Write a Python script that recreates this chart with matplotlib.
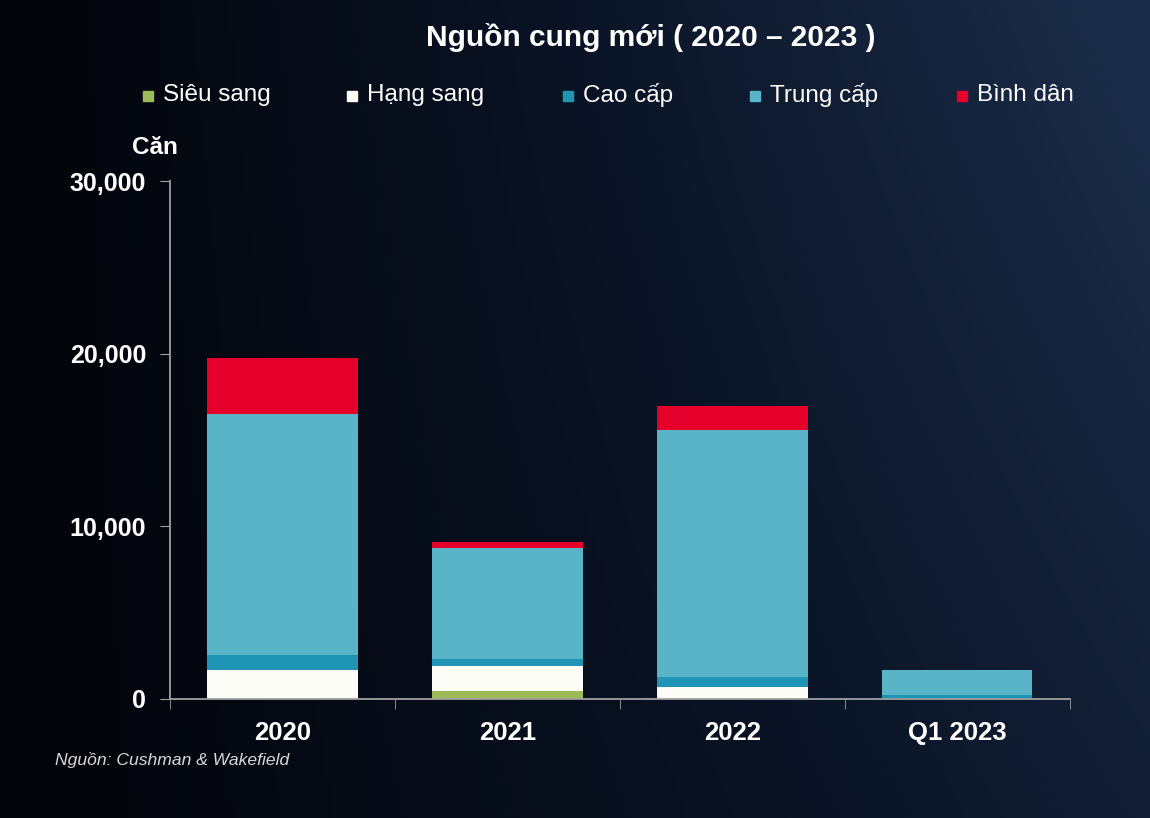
import matplotlib.pyplot as plt
import numpy as np
from matplotlib.colors import LinearSegmentedColormap
from matplotlib.patches import Rectangle

plt.rcParams['font.family'] = ['Liberation Sans', 'DejaVu Sans']

categories = ['2020', '2021', '2022', 'Q1 2023']
segments = ['Siêu sang', 'Hạng sang', 'Cao cấp', 'Trung cấp', 'Bình dân']
sieu_sang = [0, 450, 0, 0]
hang_sang = [1680, 1460, 720, 0]
cao_cap = [870, 390, 555, 215]
trung_cap = [13980, 6430, 14295, 1485]
binh_dan = [3220, 350, 1420, 0]
colors = ['#9bbb59', '#fdfdf8', '#1f94b4', '#5ab4c8', '#e4002b']

fig = plt.figure(figsize=(11.5, 8.18), dpi=100)

# background gradient
bg = fig.add_axes([0, 0, 1, 1])
bg.set_axis_off()
xx, yy = np.meshgrid(np.linspace(0, 1, 300), np.linspace(0, 1, 200))
grad = np.clip(0.75 * xx + 0.35 * (1 - yy) * xx - 0.05, 0, 1)
cmap = LinearSegmentedColormap.from_list('bg', ['#03050c', '#0a1426', '#1b2c48'])
bg.imshow(grad, cmap=cmap, aspect='auto', extent=[0, 1, 0, 1], origin='upper')

ax = fig.add_axes([0.1478, 0.1455, 0.7826, 0.6332])
ax.patch.set_alpha(0)

x = np.arange(len(categories))
series = [sieu_sang, hang_sang, cao_cap, trung_cap, binh_dan]
bottom = np.zeros(len(categories))
for name, vals, c in zip(segments, series, colors):
    ax.bar(x, vals, width=0.667, bottom=bottom, color=c, label=name)
    bottom += np.array(vals)

ax.set_xlim(-0.5, 3.5)
ax.set_ylim(0, 30000)
ax.set_yticks([0, 10000, 20000, 30000])
ax.set_yticklabels(['{:,}'.format(v) for v in [0, 10000, 20000, 30000]])
ax.set_xticks(x)
ax.set_xticklabels(categories)
ax.set_xticks(np.arange(-0.5, 4, 1), minor=True)
ax.tick_params(axis='x', which='major', length=0, pad=16, labelsize=18.5, colors='white')
ax.tick_params(axis='x', which='minor', length=7, color='#a0a0a0', direction='out')
ax.tick_params(axis='y', length=7, color='#a0a0a0', labelsize=18, colors='white', pad=10)
ax.tick_params(axis='y', color='#a0a0a0')
for lbl in ax.get_xticklabels() + ax.get_yticklabels():
    lbl.set_fontweight('bold')
for s in ['top', 'right']:
    ax.spines[s].set_visible(False)
for s in ['left', 'bottom']:
    ax.spines[s].set_color('#a0a0a0')
    ax.spines[s].set_linewidth(1.3)

fig.text(0.566, 1 - 37 / 818, 'Nguồn cung mới ( 2020 – 2023 )', ha='center', va='center',
         fontsize=21.5, fontweight='bold', color='white')

# legend
leg_x = [143, 347, 563, 750, 957]
for lx, name, c in zip(leg_x, segments, colors):
    fig.patches.append(Rectangle((lx / 1150, 1 - 101 / 818), 10 / 1150, 10 / 818,
                                 transform=fig.transFigure, color=c, figure=fig))
    fig.text((lx + 20) / 1150, 1 - 95 / 818, name, ha='left', va='center',
             fontsize=17.5, color='white')

fig.text(155 / 1150, 1 - 147 / 818, 'Căn', ha='center', va='center',
         fontsize=17.5, fontweight='bold', color='white')
fig.text(55 / 1150, 1 - 760 / 818, 'Nguồn: Cushman & Wakefield', ha='left', va='center',
         fontsize=12.6, style='italic', color='#d8d8d8')

fig.savefig('out.png', dpi=100)
